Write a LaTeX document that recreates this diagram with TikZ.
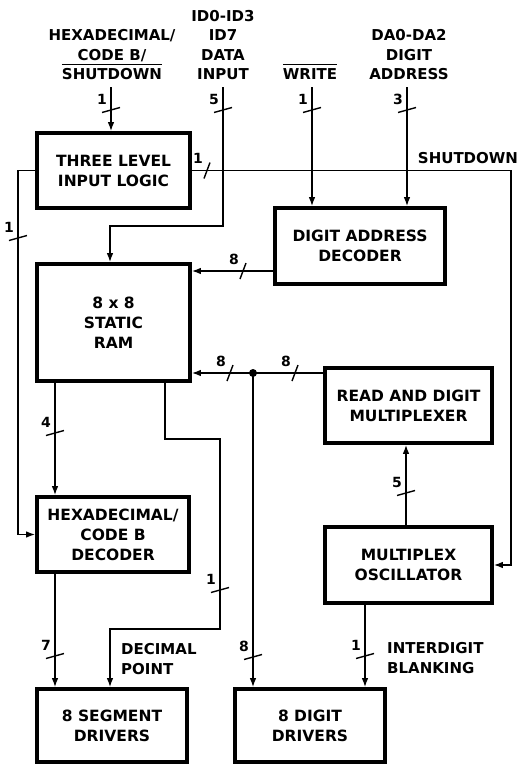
\documentclass[tikz,border=0pt]{standalone}
\usepackage{fontspec}
\setmainfont{DejaVu Sans}
\usetikzlibrary{arrows.meta}

\newcommand\negbar[1]{\vbox{\hrule height 1.3pt\kern 3.5pt\hbox{#1}}}

\begin{document}
\begin{tikzpicture}[x=1pt, y=-1pt, >={Latex[length=9pt,width=6.5pt]},
    block/.style={draw, line width=3.6pt, inner sep=0pt, align=center,
      font=\bfseries\fontsize{15.5}{20}\selectfont},
    wire/.style={line width=1.4pt},
    sigtext/.style={inner sep=0pt, align=center,
      font=\bfseries\fontsize{15}{19.5}\selectfont},
    num/.style={inner sep=0pt, font=\bfseries\fontsize{14}{14}\selectfont}]
    \useasboundingbox (0,0) rectangle (523,766);

    % Blocks
    \node[block, minimum width=153, minimum height=75] (tlil) at (113.5,170.5) {THREE LEVEL\\INPUT LOGIC};
    \node[block, minimum width=170, minimum height=76] (dad) at (360,246) {DIGIT ADDRESS\\DECODER};
    \node[block, minimum width=153, minimum height=117] (ram) at (113.5,322.5) {8 x 8\\STATIC\\RAM};
    \node[block, minimum width=167, minimum height=75] (mux) at (408.5,405.5) {READ AND DIGIT\\MULTIPLEXER};
    \node[block, minimum width=152, minimum height=75] (hex) at (113,534.5) {HEXADECIMAL/\\CODE B\\DECODER};
    \node[block, minimum width=167, minimum height=76] (osc) at (408.5,565) {MULTIPLEX\\OSCILLATOR};
    \node[block, minimum width=150, minimum height=73] (seg) at (112,725.5) {8 SEGMENT\\DRIVERS};
    \node[block, minimum width=150, minimum height=73] (dig) at (310,725.5) {8 DIGIT\\DRIVERS};

    % Input signals
    \node[sigtext, anchor=south] (hexlbl) at (112,80) {HEXADECIMAL/\\CODE B/\\\negbar{SHUTDOWN}};
    \node[sigtext, anchor=south] (datalbl) at (223,80) {ID0-ID3\\ID7\\DATA\\INPUT};
    \node[sigtext, anchor=south] (wrlbl) at (310,80) {\negbar{WRITE}};
    \node[sigtext, anchor=south] (dalbl) at (409,80) {DA0-DA2\\DIGIT\\ADDRESS};

    \coordinate (hexin) at (111,87);
    \coordinate (datain) at (223,87);
    \coordinate (wrin) at (312,87);
    \coordinate (dain) at (407,87);
    \coordinate (ramin) at (110,226);

    \draw[wire, ->] (hexin) -- (hexin |- tlil.north);
    \draw[wire, ->] (datain) |- (ramin) -- (ramin |- ram.north);
    \draw[wire, ->] (wrin) -- (wrin |- dad.north);
    \draw[wire, ->] (dain) -- (dain |- dad.north);

    % Shutdown and mode lines
    \coordinate (sdturn) at (511,170.5);
    \coordinate (lfturn) at (18,170.5);
    \draw[wire, ->] (tlil.east) -- (sdturn) |- (osc.east);
    \draw[wire, ->] (tlil.west) -- (lfturn) |- (hex.west);
    \node[sigtext, anchor=south] (sdlbl) at (468,163.5) {SHUTDOWN};

    % Address and data buses
    \coordinate (dadrow) at (0,271);
    \coordinate (busrow) at (0,373);
    \draw[wire, ->] (dad.west |- dadrow) -- (ram.east |- dadrow);
    \node[fill, circle, inner sep=0pt, minimum size=8] (busdot) at (253,373) {};
    \draw[wire, ->] (mux.west |- busrow) -- (ram.east |- busrow);
    \draw[wire, ->] (busdot.center) -- (busdot |- dig.north);

    % Segment path
    \coordinate (segcol) at (55,0);
    \draw[wire, ->] (ram.south -| segcol) -- (hex.north -| segcol);
    \draw[wire, ->] (hex.south -| segcol) -- (seg.north -| segcol);

    % Decimal point
    \coordinate (dp1) at (165,439);
    \coordinate (dp2) at (220,629);
    \coordinate (dp3) at (110,629);
    \draw[wire, ->] (ram.south -| dp1) -- (dp1) -| (dp2) -- (dp3) -- (dp3 |- seg.north);
    \node[sigtext, anchor=west, align=left] (dplbl) at (121,659) {DECIMAL\\POINT};

    % Oscillator outputs
    \coordinate (mxcol) at (406,0);
    \coordinate (ibcol) at (365,0);
    \draw[wire, ->] (osc.north -| mxcol) -- (mux.south -| mxcol);
    \draw[wire, ->] (osc.south -| ibcol) -- (dig.north -| ibcol);
    \node[sigtext, anchor=west, align=left] (iblbl) at (387,658) {INTERDIGIT\\BLANKING};

    % Bus width marks
    \foreach \x/\y/\n in {111/110/1, 223/110/5, 312/110/1, 407/110/3, 18/238/1,
        55/433/4, 220/590/1, 55/656/7, 253/657/8, 406/493/5, 365/656/1} {
      \draw[wire] (\x-9,\y+2.5) -- (\x+9,\y-2.5);
      \node[num] at (\x-9,\y-11) {\n};
    }
    \foreach \x/\y/\n in {207/170.5/1, 243/271/8, 230/373/8, 295/373/8} {
      \draw[wire] (\x-3,\y+8) -- (\x+3,\y-8);
      \node[num] at (\x-9,\y-12) {\n};
    }
\end{tikzpicture}
\end{document}
